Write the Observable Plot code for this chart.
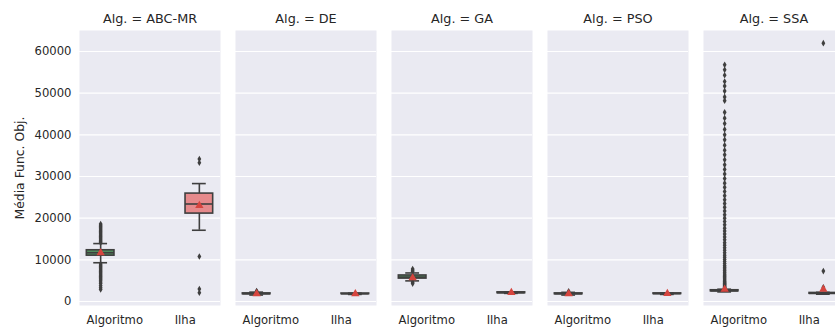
<!DOCTYPE html>
<html>
<head>
<meta charset="utf-8">
<script src="https://cdn.jsdelivr.net/npm/d3@7"></script>
<script src="https://cdn.jsdelivr.net/npm/@observablehq/plot@0.6"></script>
<style>
  html, body { margin: 0; padding: 0; background: white; overflow: hidden; }
</style>
</head>
<body>
<div id="chart"></div>
<script>
const algs = ["ABC-MR", "DE", "GA", "PSO", "SSA"];
const tipos = ["Algoritmo", "Ilha"];
const yTicks = [0, 10000, 20000, 30000, 40000, 50000, 60000];

// series order: ABC-MR/Algoritmo, ABC-MR/Ilha, DE/Algoritmo, DE/Ilha, GA/Algoritmo, GA/Ilha, PSO/Algoritmo, PSO/Ilha, SSA/Algoritmo, SSA/Ilha
const seriesAlg  = ["ABC-MR", "ABC-MR", "DE", "DE", "GA", "GA", "PSO", "PSO", "SSA", "SSA"];
const seriesTipo = ["Algoritmo", "Ilha", "Algoritmo", "Ilha", "Algoritmo", "Ilha", "Algoritmo", "Ilha", "Algoritmo", "Ilha"];
const q1          = [11000, 21100, 1750, 1780, 5500, 2000, 1750, 1800, 2450, 1850];
const medians     = [11700, 23400, 1850, 1850, 5850, 2100, 1850, 1880, 2550, 1950];
const q3          = [12300, 25900, 1950, 1920, 6250, 2200, 1950, 1950, 2700, 2050];
const whiskerLow  = [9300, 17100, 1550, 1700, 4950, 1950, 1550, 1700, 2300, 1750];
const whiskerHigh = [13900, 28300, 2250, 2000, 6850, 2300, 2200, 2050, 2950, 2200];
const means       = [11700, 23000, 1850, 1850, 5650, 2150, 1850, 1880, 2900, 2900];

const outliers = [
  [18600, 18300, 18000, 17700, 17400, 17100, 16800, 16500, 16200, 15900, 15600, 15300, 15000, 14700, 14400, 14100,
   9000, 8700, 8400, 8100, 7800, 7500, 7200, 6900, 6600, 6300, 6000, 5700, 5400, 5100, 4700, 4300, 3800, 3300, 2900],
  [34200, 33300, 10800, 3000, 2100],
  [2500, 2400],
  [],
  [7800, 7500, 7200, 4600, 4300],
  [],
  [2450],
  [],
  [56800, 55600, 54300, 52800, 51700, 50500, 49100, 48200, 45400, 44000, 42700, 41300, 40000, 38800, 37500, 36300,
   35200, 34000, 32800, 31700, 30600, 29500, 28400, 27400, 26400, 25400, 24400, 23500, 22600, 21700, 20800, 20000,
   19200, 18400, 17600, 16900, 16200, 15500, 14800, 14100, 13500, 12900, 12300, 11700, 11100, 10600, 10100, 9600,
   9100, 8600, 8200, 7800, 7400, 7000, 6600, 6300, 6000, 5700, 5400, 5100, 4800, 4600, 4400, 4200, 4000, 3800,
   3600, 3400, 3300, 3200],
  [62000, 7300, 3400]
];

const boxColors = {"Algoritmo": "#52905f", "Ilha": "#e68a8c"};
const lineColor = "#3f3f3f";

// hue dodge within each category (as seaborn does with hue)
const dodge = {"Algoritmo": -0.2, "Ilha": 0.2};
const halfBox = 0.196;
const halfCap = 0.098;

const rows = seriesAlg.map((a, i) => {
  const t = seriesTipo[i];
  const c = tipos.indexOf(t) + dodge[t];
  return {alg: a, tipo: t, c, q1: q1[i], med: medians[i], q3: q3[i], lo: whiskerLow[i], hi: whiskerHigh[i], mean: means[i]};
});
const outRows = [];
rows.forEach((r, i) => outliers[i].forEach(v => outRows.push({alg: r.alg, c: r.c, v})));

const thinDiamond = {
  draw(ctx, size) {
    const r = Math.sqrt(size / Math.PI);
    ctx.moveTo(0, -r * 1.2);
    ctx.lineTo(r * 0.7, 0);
    ctx.lineTo(0, r * 1.2);
    ctx.lineTo(-r * 0.7, 0);
    ctx.closePath();
  }
};

const chart = Plot.plot({
  width: 835,
  height: 329,
  marginLeft: 78,
  marginRight: -9,
  marginTop: 30,
  marginBottom: 24,
  style: {fontFamily: "DejaVu Sans", color: "#262626", background: "white", overflow: "hidden"},
  fx: {domain: algs, paddingInner: 0.0976, paddingOuter: 0, label: null},
  x: {domain: [-0.5, 1.5]},
  y: {domain: [-960, 65040]},
  marks: [
    Plot.frame({fill: "#eaeaf2", stroke: "none"}),
    Plot.gridY(yTicks, {stroke: "white", strokeOpacity: 1, strokeWidth: 1.2}),
    Plot.axisY(yTicks, {tickSize: 0, tickPadding: 8, fontSize: 11.6, tickFormat: d => String(d), label: null}),
    Plot.axisY([], {label: "Média Func. Obj.", labelArrow: "none", labelAnchor: "center", labelOffset: 64, fontSize: 12.4}),
    Plot.axisX([0, 1], {tickSize: 0, tickPadding: 10, fontSize: 11.6, tickFormat: i => tipos[i], label: null}),
    Plot.axisFx({anchor: "top", tickSize: 0, tickPadding: 8, fontSize: 12.8, tickFormat: d => `Alg. = ${d}`, label: null}),
    // whiskers
    Plot.ruleX(rows, {fx: "alg", x: "c", y1: "lo", y2: "q1", stroke: lineColor, strokeWidth: 1.6}),
    Plot.ruleX(rows, {fx: "alg", x: "c", y1: "q3", y2: "hi", stroke: lineColor, strokeWidth: 1.6}),
    // caps
    Plot.ruleY(rows, {fx: "alg", x1: d => d.c - halfCap, x2: d => d.c + halfCap, y: "lo", stroke: lineColor, strokeWidth: 1.6}),
    Plot.ruleY(rows, {fx: "alg", x1: d => d.c - halfCap, x2: d => d.c + halfCap, y: "hi", stroke: lineColor, strokeWidth: 1.6}),
    // boxes
    Plot.rect(rows, {fx: "alg", x1: d => d.c - halfBox, x2: d => d.c + halfBox, y1: "q1", y2: "q3",
      fill: d => boxColors[d.tipo], stroke: lineColor, strokeWidth: 1.6}),
    // medians
    Plot.ruleY(rows, {fx: "alg", x1: d => d.c - halfBox, x2: d => d.c + halfBox, y: "med", stroke: lineColor, strokeWidth: 1.6}),
    // outliers
    Plot.dot(outRows, {fx: "alg", x: "c", y: "v", symbol: thinDiamond, r: 2.75, fill: lineColor, stroke: "none"}),
    // means
    Plot.dot(rows, {fx: "alg", x: "c", y: "mean", symbol: "triangle", r: 3.1, fill: "#d6453f", stroke: "none"})
  ]
});
document.getElementById("chart").appendChild(chart);
</script>
</body>
</html>
